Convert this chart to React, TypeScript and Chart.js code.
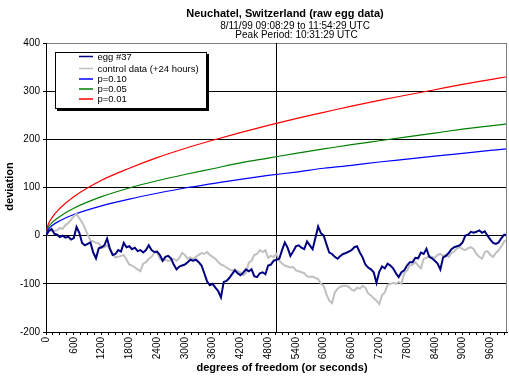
import React, { useEffect, useRef } from 'react';
import { Chart, registerables } from 'chart.js';

Chart.register(...registerables);

const TITLE = 'Neuchatel, Switzerland (raw egg data)';
const SUBTITLE_1 = '8/11/99 09:08:29 to 11:54:29 UTC';
const SUBTITLE_2 = 'Peak Period: 10:31:29 UTC';
const X_TITLE = 'degrees of freedom (or seconds)';
const Y_TITLE = 'deviation';

const SAMPLE_STEP = 60; // seconds between samples of the two walks
const X_MAX = 9960;
const PEAK_SECOND = 4980;

const eggValues = [
  0, 10, 14, 4, 2, -3, 0, -4, -2, -8,
  -5, 18, 6, -15, -20, -17, -14, -35, -47, -26,
  -24, -20, -6, -27, -40, -38, -30, -33, -15, -24,
  -22, -28, -25, -32, -30, -35, -30, -20, -30, -34,
  -33, -40, -52, -44, -42, -47, -60, -70, -64, -62,
  -60, -55, -50, -52, -50, -55, -62, -78, -95, -103,
  -100, -108, -115, -128, -96, -94, -88, -80, -72, -78,
  -82, -77, -70, -74, -70, -84, -86, -78, -76, -80,
  -62, -60, -52, -50, -48, -30, -14, -25, -42, -33,
  -22, -20, -25, -28, -12, -20, -28, -5, 19, 5,
  0, -18, -35, -38, -44, -48, -42, -38, -36, -33,
  -30, -24, -22, -35, -45, -60, -66, -70, -76, -98,
  -75, -64, -68, -58, -62, -68, -78, -86, -76, -72,
  -62, -55, -55, -46, -47, -35, -38, -27, -44, -47,
  -52, -58, -70, -45, -42, -36, -28, -24, -22, -20,
  -14, 0, 2, 8, 6, 8, 11, 6, 9, 0,
  -8, -15, -17, -14, -5, 2, 0,
];

const controlValues = [
  0, 8, 12, 10, 11, 16, 14, 22, 26, 33,
  40, 45, 36, 28, 15, 2, -10, -12, -15, -16,
  -25, -24, -20, -28, -38, -45, -44, -42, -40, -50,
  -60, -62, -66, -70, -74, -58, -55, -48, -44, -36,
  -34, -48, -52, -50, -53, -50, -48, -52, -46, -36,
  -40, -48, -45, -48, -44, -40, -36, -38, -34, -40,
  -44, -48, -55, -60, -62, -66, -70, -72, -70, -74,
  -76, -82, -78, -56, -52, -40, -38, -30, -34, -30,
  -46, -42, -44, -38, -52, -58, -62, -64, -66, -65,
  -72, -74, -76, -78, -84, -86, -85, -88, -90, -100,
  -104, -122, -135, -140, -118, -110, -106, -104, -104, -106,
  -112, -114, -108, -110, -104, -108, -120, -124, -130, -135,
  -142, -124, -118, -102, -100, -98, -100, -96, -100, -78,
  -72, -62, -60, -55, -62, -68, -48, -46, -42, -44,
  -46, -40, -38, -42, -40, -44, -36, -33, -27, -24,
  -28, -30, -26, -24, -28, -38, -44, -48, -34, -32,
  -40, -44, -36, -30, -22, -12, -8,
];

const pSeconds = [0, 30, 120, 300, 600, 1200, 1800, 2400, 3000, 3600, 4200, 4800, 5400, 6000, 6600, 7200, 7800, 8400, 9000, 9600, 9960];
const p10Values = [0, 10, 20, 31, 44, 62, 76, 88, 99, 108, 117, 125, 132, 140, 146, 153, 159, 165, 171, 177, 180];
const p05Values = [0, 13, 26, 40, 57, 81, 99, 114, 127, 139, 151, 161, 171, 180, 189, 197, 205, 213, 221, 228, 232];
const p01Values = [0, 18, 36, 57, 81, 115, 140, 162, 181, 198, 214, 229, 243, 256, 269, 281, 292, 303, 314, 324, 330];

const xLabelValues = [0, 600, 1200, 1800, 2400, 3000, 3600, 4200, 4800, 5400, 6000, 6600, 7200, 7800, 8400, 9000, 9600];
const X_MINOR_STEP = 150;
const Y_MIN = -200;
const Y_MAX = 400;
const Y_STEP = 100;

const seriesNames = ['egg #37', 'control data (+24 hours)', 'p=0.10', 'p=0.05', 'p=0.01'];
const seriesColors = ['#000080', '#C0C0C0', '#0000FF', '#008000', '#FF0000'];

const FONT = '"Liberation Sans", Arial, sans-serif';

const overlayPlugin = {
  id: 'overlay',
  afterDraw(chart: any) {
    const ctx = chart.ctx;
    const ca = chart.chartArea;
    ctx.save();
    // right border of the plot area
    ctx.strokeStyle = '#808080';
    ctx.lineWidth = 1;
    ctx.beginPath();
    ctx.moveTo(Math.round(ca.right) - 0.5, ca.top);
    ctx.lineTo(Math.round(ca.right) - 0.5, ca.bottom);
    ctx.stroke();

    // titles
    ctx.fillStyle = '#000';
    ctx.textAlign = 'center';
    ctx.textBaseline = 'middle';
    ctx.font = `bold 11px ${FONT}`;
    ctx.fillText(TITLE, 285, 13.5);
    ctx.font = `10px ${FONT}`;
    ctx.fillText(SUBTITLE_1, 295, 26);
    ctx.fillText(SUBTITLE_2, 296.5, 35.5);

    // axis titles
    ctx.font = `bold 11px ${FONT}`;
    ctx.fillText(X_TITLE, 282, 368);
    ctx.save();
    ctx.translate(10, 186.5);
    ctx.rotate(-Math.PI / 2);
    ctx.fillText(Y_TITLE, 0, 0);
    ctx.restore();

    // legend box with shadow
    const lx = 55, ly = 52, lw = 151, lh = 56;
    ctx.fillStyle = '#000';
    ctx.fillRect(lx + 2, ly + 2, lw + 1, lh + 1);
    ctx.fillStyle = '#fff';
    ctx.fillRect(lx, ly, lw, lh);
    ctx.strokeStyle = '#000';
    ctx.strokeRect(lx + 0.5, ly + 0.5, lw, lh);
    const rows = [56.5, 68.5, 79, 89, 99];
    ctx.font = `9.5px ${FONT}`;
    ctx.textAlign = 'left';
    seriesNames.forEach((name, i) => {
      const y = rows[i];
      ctx.strokeStyle = seriesColors[i];
      ctx.lineWidth = 1.5;
      ctx.beginPath();
      ctx.moveTo(79, y);
      ctx.lineTo(93, y);
      ctx.stroke();
      ctx.fillStyle = '#000';
      ctx.fillText(name, 97.5, y + 0.5);
    });
    ctx.restore();
  },
};

export default function App() {
  const ref = useRef<HTMLCanvasElement>(null);

  useEffect(() => {
    document.body.style.margin = '0';
    const canvas = ref.current;
    if (!canvas) return;

    const walk = (vals: number[]) => vals.map((v, i) => ({ x: i * SAMPLE_STEP, y: v }));
    const curve = (vals: number[]) => vals.map((v, i) => ({ x: pSeconds[i], y: v }));

    const chart = new Chart(canvas, {
      type: 'line',
      data: {
        datasets: [
          { label: seriesNames[0], data: walk(eggValues), borderColor: seriesColors[0], borderWidth: 2, order: 0 },
          { label: seriesNames[1], data: walk(controlValues), borderColor: seriesColors[1], borderWidth: 2, order: 1 },
          { label: seriesNames[2], data: curve(p10Values), borderColor: seriesColors[2], borderWidth: 1.2, order: 2, cubicInterpolationMode: 'monotone' },
          { label: seriesNames[3], data: curve(p05Values), borderColor: seriesColors[3], borderWidth: 1.2, order: 2, cubicInterpolationMode: 'monotone' },
          { label: seriesNames[4], data: curve(p01Values), borderColor: seriesColors[4], borderWidth: 1.2, order: 2, cubicInterpolationMode: 'monotone' },
          { label: 'peak', data: [{ x: PEAK_SECOND, y: Y_MIN }, { x: PEAK_SECOND, y: Y_MAX }], borderColor: '#000', borderWidth: 1, order: 3 },
        ],
      } as any,
      options: {
        animation: false,
        responsive: false,
        devicePixelRatio: 1,
        elements: { point: { radius: 0 }, line: { tension: 0, fill: false } },
        layout: { padding: { left: 0, top: 43, right: 2, bottom: 0 } },
        plugins: { legend: { display: false }, tooltip: { enabled: false }, title: { display: false } },
        scales: {
          x: {
            type: 'linear',
            min: 0,
            max: X_MAX,
            afterBuildTicks: (scale: any) => {
              const t = [];
              for (let v = 0; v <= X_MAX; v += X_MINOR_STEP) t.push({ value: v });
              scale.ticks = t;
            },
            afterFit: (scale: any) => {
              scale.height = 51;
              scale.paddingLeft = 0;
              scale.paddingRight = 0;
            },
            grid: { drawOnChartArea: false, drawTicks: true, tickLength: 3, color: '#000' },
            border: { color: '#000', width: 1 },
            ticks: {
              autoSkip: false,
              minRotation: 90,
              maxRotation: 90,
              padding: 2,
              color: '#000',
              font: { family: FONT, size: 10 },
              callback: (v: any) => (xLabelValues.includes(Number(v)) ? String(v) : ''),
            },
          },
          y: {
            type: 'linear',
            min: Y_MIN,
            max: Y_MAX,
            afterFit: (scale: any) => {
              scale.width = 46;
              scale.paddingTop = 0;
              scale.paddingBottom = 0;
            },
            grid: {
              color: (c: any) => (c.tick && c.tick.value === Y_MAX ? '#808080' : '#000'),
              tickColor: '#000',
              tickLength: 3,
              lineWidth: 1,
            },
            border: { color: '#000', width: 1 },
            ticks: {
              stepSize: Y_STEP,
              padding: 3,
              color: '#000',
              font: { family: FONT, size: 10 },
            },
          },
        },
      } as any,
      plugins: [overlayPlugin],
    });
    return () => chart.destroy();
  }, []);

  return <canvas ref={ref} width={509} height={383} style={{ display: 'block' }} />;
}
